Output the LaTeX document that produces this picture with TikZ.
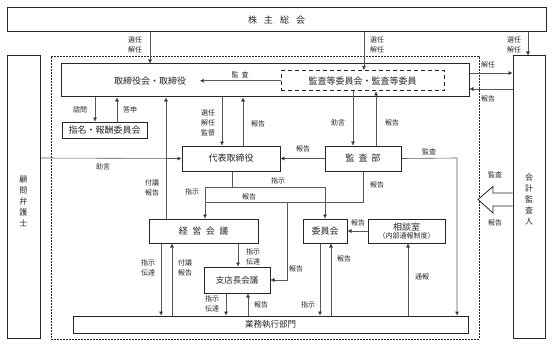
\documentclass[tikz,border=0pt]{standalone}
\usepackage{fontspec}
\setmainfont{Noto Sans CJK JP}
\usetikzlibrary{arrows.meta}
\begin{document}
\begin{tikzpicture}[x=1pt,y=-1pt,
  box/.style={draw=black!85, line width=1pt, inner sep=0pt, font=\fontsize{9}{10}\selectfont, text=black!85},
  lab/.style={font=\fontsize{7}{10}\selectfont, inner sep=0pt, align=center, text=black!85},
  arr/.style={draw=black!65, line width=0.6pt, -{Triangle[length=4pt,width=3.6pt,fill=black]}},
  ln/.style={draw=black!65, line width=0.6pt},
  vtext/.style={font=\fontsize{8}{11}\selectfont, align=center, inner sep=0pt, text=black!85}]
\useasboundingbox (0,0) rectangle (553,350);

% boxes
\node[box, minimum width=539pt, minimum height=24pt] (kabu) at (276.5,20) {株\hspace{7pt}主\hspace{7pt}総\hspace{7pt}会};
\node[box, minimum width=33pt, minimum height=282pt] (komon) at (23.5,197) {};
\node[vtext] (komont) at (23.5,201.5) {顧\\問\\弁\\護\\士};
\node[box, minimum width=32pt, minimum height=282pt] (kaikei) at (529,197) {};
\node[vtext] (kaikeit) at (529,199.5) {会\\計\\監\\査\\人};
\node[draw=black!85, line width=0.8pt, dash pattern=on 2pt off 1pt, minimum width=428pt, minimum height=283pt, inner sep=0pt] (group) at (265,197.5) {};
\node[box, minimum width=408pt, minimum height=33pt] (tori) at (265,80.5) {};
\node[font=\fontsize{9}{10}\selectfont, inner sep=0pt, text=black!85] (torit) at (150,81) {取締役会・取締役};
\node[box, dash pattern=on 4pt off 3pt, minimum width=163pt, minimum height=20.5pt] (kansatou) at (362.5,80.75) {監査等委員会・監査等委員};
\node[box, minimum width=85pt, minimum height=16pt] (shimei) at (104.5,130) {指名・報酬委員会};
\node[box, minimum width=98pt, minimum height=25pt] (daihyo) at (231,158.5) {代表取締役};
\node[box, minimum width=76pt, minimum height=25pt] (kansabu) at (363,158.5) {監\hspace{4pt}査\hspace{4pt}部};
\node[box, minimum width=109pt, minimum height=24pt] (keiei) at (203.5,231) {経\hspace{4.5pt}営\hspace{4.5pt}会\hspace{4.5pt}議};
\node[box, minimum width=44pt, minimum height=24pt] (iinkai) at (325,231) {委員会};
\node[box, minimum width=77pt, minimum height=24pt, align=center] (soudan) at (406.5,231) {相談室\\[-2pt]{\fontsize{7}{8}\selectfont （内部通報制度）}};
\node[box, minimum width=66pt, minimum height=26pt, font=\fontsize{8.5}{10}\selectfont] (shiten) at (237,280) {支店長会議};
\node[box, minimum width=395pt, minimum height=17pt, font=\fontsize{8.5}{10}\selectfont] (gyomu) at (270.5,324.5) {業務執行部門};

% helper coordinates
\coordinate (x95) at (95,0);   \coordinate (x117) at (117,0);
\coordinate (x150) at (150,0); \coordinate (x161) at (161,0);
\coordinate (x166) at (166,0); \coordinate (x172) at (172,0);
\coordinate (x205) at (205,0); \coordinate (x222) at (222,0);
\coordinate (x226) at (226,0); \coordinate (x232) at (232,0);
\coordinate (x238) at (238,0); \coordinate (x243) at (243,0);
\coordinate (x248) at (248,0); \coordinate (x320) at (320,0);
\coordinate (x331) at (331,0); \coordinate (x353) at (353,0);
\coordinate (x364) at (364,0); \coordinate (x376) at (376,0);
\coordinate (x408) at (408,0); \coordinate (x457) at (457,0);
\coordinate (x528) at (528,0);
\coordinate (y73) at (0,73);   \coordinate (y89) at (0,89);
\coordinate (y158) at (0,158);
\coordinate (kansaEnd) at (200,80.75);
\coordinate (jA) at (232,187); \coordinate (jL) at (205,187); \coordinate (jR) at (325,187);
\coordinate (hA) at (363,202); \coordinate (hL) at (205,202);
\coordinate (hB) at (287,202); \coordinate (hC) at (287,280);
\coordinate (kR) at (457,158);

% connectors
\draw[arr] (kabu.south -| x150) -- (tori.north -| x150);
\draw[arr] (kabu.south -| x364) -- (kansatou.north -| x364);
\draw[arr] (kabu.south -| x528) -- (kaikei.north -| x528);
\draw[arr] (tori.east |- y73) -- (kaikei.west |- y73);
\draw[arr] (kaikei.west |- y89) -- (tori.east |- y89);
\draw[arr] (kansatou.west) -- (kansaEnd);
\draw[arr] (tori.south -| x95) -- (shimei.north -| x95);
\draw[arr] (shimei.north -| x117) -- (tori.south -| x117);
\draw[arr] (tori.south -| x222) -- (daihyo.north -| x222);
\draw[arr] (daihyo.north -| x243) -- (tori.south -| x243);
\draw[arr] (kansatou.south -| x353) -- (kansabu.north -| x353);
\draw[arr] (kansabu.north -| x376) -- (kansatou.south -| x376);
\draw[arr] (komon.east |- y158) -- (daihyo.west);
\draw[arr] (kansabu.west) -- (daihyo.east);
\draw[arr] (kansabu.east) -- (kR) -- (gyomu.north -| x457);
\draw[arr] (keiei.north -| x166) -- (tori.south -| x166);
\draw[arr] (daihyo.south -| x232) -- (jA) -- (jL) -- (keiei.north -| x205);
\draw[arr] (jA) -- (jR) -- (iinkai.north);
\draw[ln] (kansabu.south) -- (hA) -- (hL);
\draw[arr] (hB) -- (hC) -- (shiten.east);
\draw[arr] (soudan.west) -- (iinkai.east);
\draw[arr] (keiei.south -| x161) -- (gyomu.north -| x161);
\draw[arr] (gyomu.north -| x172) -- (keiei.south -| x172);
\draw[arr] (keiei.south -| x238) -- (shiten.north -| x238);
\draw[arr] (shiten.south -| x226) -- (gyomu.north -| x226);
\draw[arr] (gyomu.north -| x248) -- (shiten.south -| x248);
\draw[arr] (iinkai.south -| x320) -- (gyomu.north -| x320);
\draw[arr] (gyomu.north -| x331) -- (iinkai.south -| x331);
\draw[arr] (gyomu.north -| x408) -- (soudan.south -| x408);

% big hollow arrow (auditor -> company)
\draw[draw=black!85, line width=0.8pt, fill=white, line join=miter]
  (512.5,193) -- (493,193) -- (493,186.5) -- (478,199.5) -- (493,213) -- (493,206) -- (512.5,206);

% labels
\node[lab] at (135,45) {選任\\解任};
\node[lab] at (377,45) {選任\\解任};
\node[lab] at (514,45) {選任\\解任};
\node[lab] at (488,65) {解任};
\node[lab] at (488,99) {報告};
\node[lab] at (240,75) {監\hspace{3pt}査};
\node[lab] at (80,110) {諮問};
\node[lab] at (130,110) {答申};
\node[lab] at (208,123) {選任\\解任\\監督};
\node[lab] at (258,124) {報告};
\node[lab] at (338,123) {助言};
\node[lab] at (392,123) {報告};
\node[lab] at (103,167) {助言};
\node[lab] at (303,149) {報告};
\node[lab] at (429,152) {監査};
\node[lab] at (152,188) {付議\\報告};
\node[lab] at (192,192) {指示};
\node[lab] at (278,181) {指示};
\node[lab] at (249,197) {報告};
\node[lab] at (377,185) {報告};
\node[lab] at (296,269) {報告};
\node[lab] at (358,223) {報告};
\node[lab] at (148,268) {指示\\伝達};
\node[lab] at (185,268) {付議\\報告};
\node[lab] at (253,257) {指示\\伝達};
\node[lab] at (212,304) {指示\\伝達};
\node[lab] at (261,305) {報告};
\node[lab] at (308,305) {指示};
\node[lab] at (344,259) {報告};
\node[lab] at (422,277) {通報};
\node[lab] at (495,175) {監査};
\node[lab] at (495,223) {報告};
\end{tikzpicture}
\end{document}
